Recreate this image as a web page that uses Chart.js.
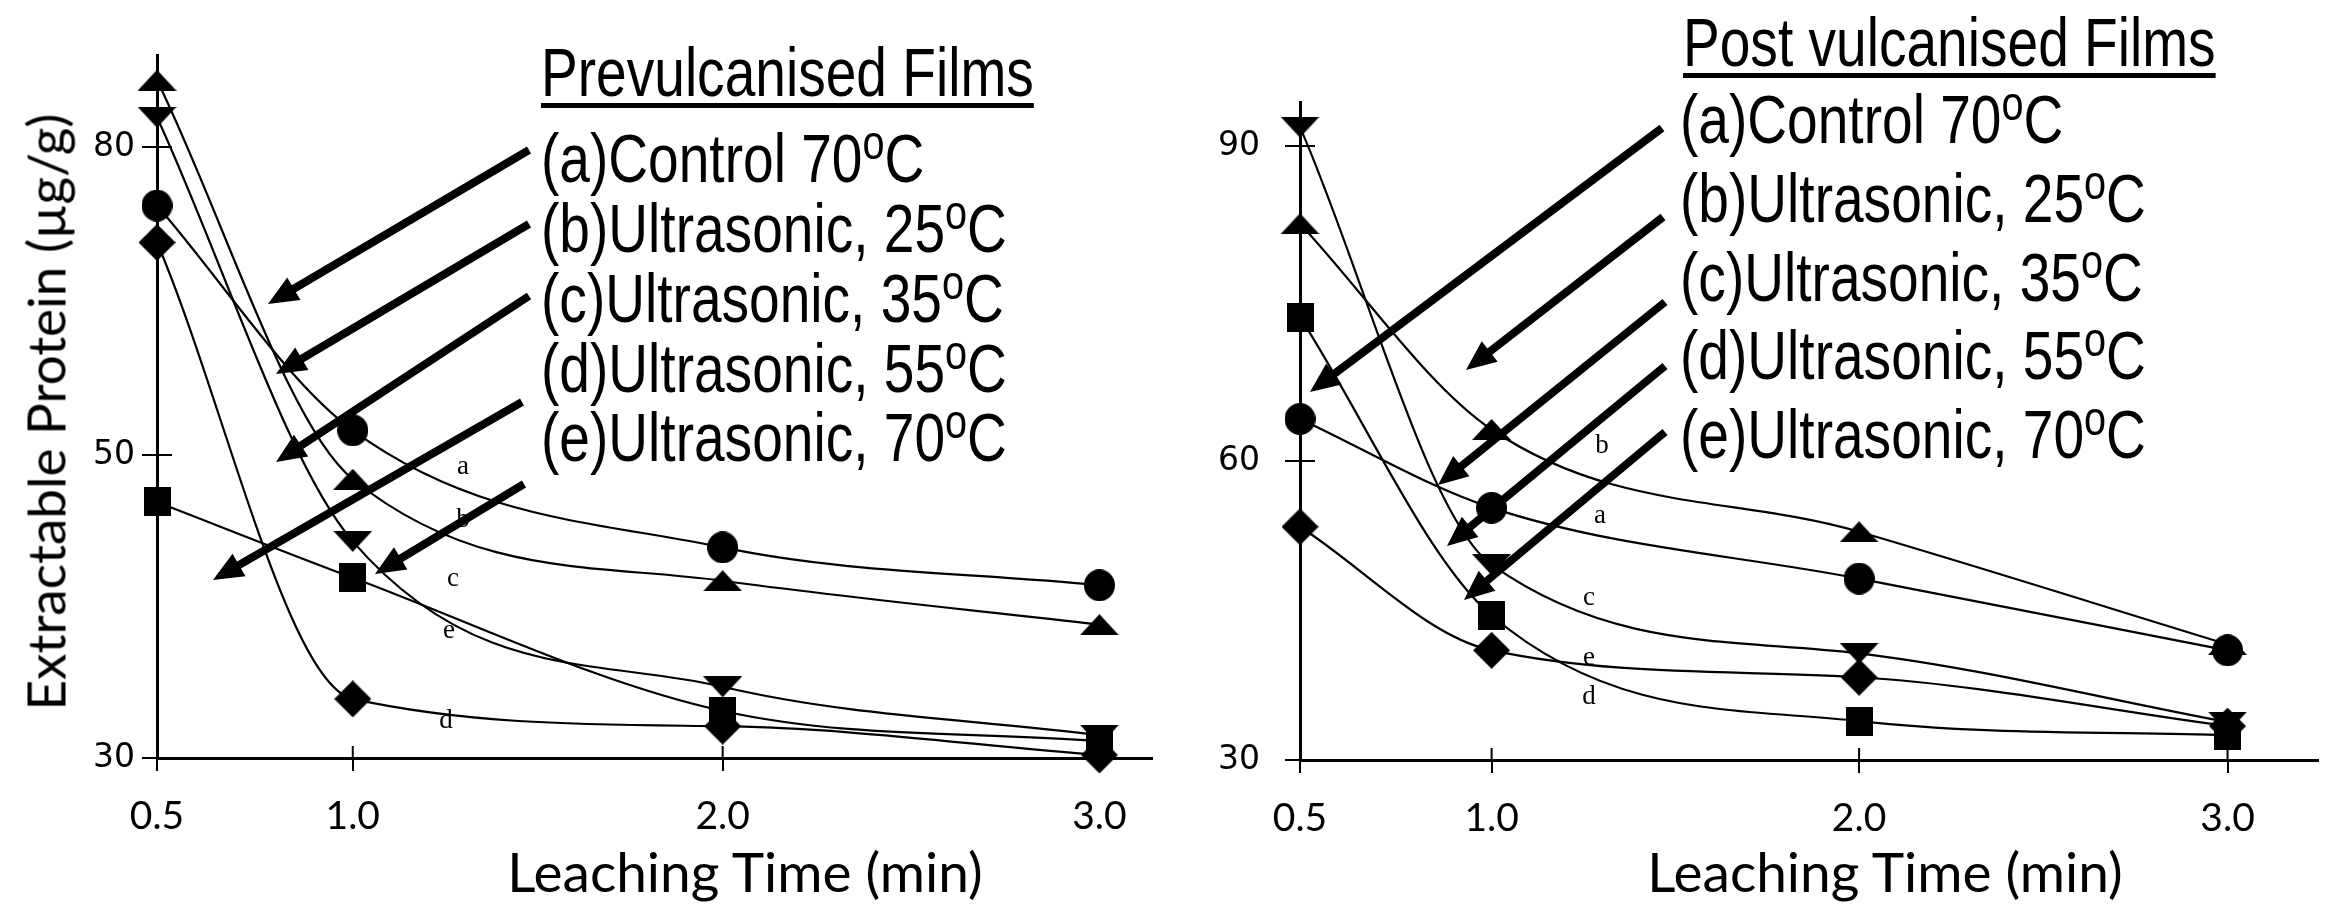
<!DOCTYPE html>
<html>
<head>
<meta charset="utf-8">
<title>Extractable protein vs leaching time</title>
<script src="https://cdn.jsdelivr.net/npm/chart.js@4.4.1/dist/chart.umd.min.js"></script>
<style>
  body { margin: 0; background: #fff; }
  #page { position: relative; width: 2336px; height: 904px; overflow: hidden; background: #fff; }
  #page canvas { position: absolute; top: 0; }
  .note { position: absolute; white-space: nowrap; color: #000;
    font-family: "Liberation Sans Narrow", "Arial Narrow", "Liberation Sans", sans-serif;
    font-size: 68px; line-height: 68px; transform: scaleX(0.81); transform-origin: 0 0; }
  .note sup { font-size: 0.72em; vertical-align: 0.46em; line-height: 0; }
  .head { text-decoration: underline; text-decoration-thickness: 5px; text-underline-offset: 7px; }
  .axis-title { position: absolute; white-space: nowrap; color: #000;
    font-family: Lato, sans-serif; font-size: 55px; line-height: 55px; transform: translate(-50%, -50%); }
  .curve-tag { position: absolute; color: #000; font-family: "Liberation Serif", serif;
    font-size: 27px; line-height: 27px; transform: translate(-50%, -50%); }
</style>
</head>
<body>
<div id="page">
  <canvas id="preChart" width="1170" height="904" style="left:0"></canvas>
  <canvas id="postChart" width="1166" height="904" style="left:1170px"></canvas>
</div>
<script>
// values
const leachTime = [0.5, 1.0, 2.0, 3.0];
const timeTicks = [0.5, 1.0, 2.0, 3.0];
const preTicks = [30, 50, 80];
const postTicks = [30, 60, 90];
const curveCodes = ['a', 'b', 'c', 'd', 'e'];
const treatments = ['Control 70', 'Ultrasonic, 25', 'Ultrasonic, 35', 'Ultrasonic, 55', 'Ultrasonic, 70'];

// Prevulcanised films (ug/g)
const preControl70 = [74.3, 52.4, 43.9, 41.4];
const preUltra25 = [86.5, 48.4, 41.7, 38.8];
const preUltra35 = [82.9, 44.3, 34.7, 31.5];
const preUltra55 = [70.7, 33.9, 32.1, 30.2];
const preUltra70 = [46.9, 41.9, 33.1, 31.1];

// Post vulcanised films (ug/g)
const postControl70 = [64.0, 55.3, 48.2, 41.0];
const postUltra25 = [82.6, 63.0, 52.9, 41.6];
const postUltra35 = [91.8, 49.6, 40.7, 33.8];
const postUltra55 = [53.4, 41.0, 38.3, 33.4];
const postUltra70 = [73.7, 44.5, 33.9, 32.5];

Chart.defaults.color = '#000';

// the scanned axes are not evenly spaced, so this scale maps values
// piecewise through the tick marks
const BaseLinear = Chart.LinearScale || Chart.registry.getScale('linear');
const knotTable = {};

class KnotScale extends BaseLinear {
  _knots() { return knotTable[this.chart.canvas.id + '.' + this.id]; }
  _warp(v) {
    const k = this._knots();
    let i = 0;
    while (i < k.length - 2 && v > k[i + 1][0]) i++;
    const a = k[i], b = k[i + 1];
    return a[1] + (v - a[0]) * (b[1] - a[1]) / (b[0] - a[0]);
  }
  _unwarp(p) {
    const k = this._knots();
    let i = 0;
    while (i < k.length - 2 && p > k[i + 1][1]) i++;
    const a = k[i], b = k[i + 1];
    return a[0] + (p - a[1]) * (b[0] - a[0]) / (b[1] - a[1]);
  }
  getPixelForValue(value) {
    if (value === null || value === undefined || isNaN(value)) return NaN;
    const lo = this._warp(this.min), hi = this._warp(this.max);
    return this.getPixelForDecimal((this._warp(value) - lo) / (hi - lo));
  }
  getValueForPixel(pixel) {
    const lo = this._warp(this.min), hi = this._warp(this.max);
    return this._unwarp(lo + this.getDecimalForPixel(pixel) * (hi - lo));
  }
}
KnotScale.id = 'knot';
KnotScale.defaults = BaseLinear.defaults;
Chart.register(KnotScale);

function marker(kind, w, h) {
  const c = document.createElement('canvas');
  c.width = w; c.height = h;
  const g = c.getContext('2d');
  g.fillStyle = '#000';
  g.beginPath();
  if (kind === 'up') { g.moveTo(w / 2, 0); g.lineTo(w, h); g.lineTo(0, h); }
  else if (kind === 'down') { g.moveTo(0, 0); g.lineTo(w, 0); g.lineTo(w / 2, h); }
  else if (kind === 'diamond') { g.moveTo(w / 2, 0); g.lineTo(w, h / 2); g.lineTo(w / 2, h); g.lineTo(0, h / 2); }
  else if (kind === 'square') { g.rect(0, 0, w, h); }
  else { g.ellipse(w / 2, h / 2, w / 2, h / 2, 0, 0, Math.PI * 2); }
  g.closePath();
  g.fill();
  return c;
}
const markers = [
  marker('circle', 31, 32),
  marker('up', 39, 21),
  marker('down', 39, 21),
  marker('diamond', 37, 37),
  marker('square', 27, 29)
];

const panels = {
  preChart: {
    offset: 0,
    series: [preControl70, preUltra25, preUltra35, preUltra55, preUltra70],
    yTicks: preTicks,
    xKnots: [[0.5, 0], [1, 199], [2, 575], [3, 958]],
    yKnots: [[30, 0], [50, 303], [80, 611]],
    xMax: 3.139, yMax: 88.96,
    axisWidth: 157, axisHeight: 146, top: 55, right: 2, yPad: 7,
    arrows: [[529, 150, 268, 304], [529, 224, 276, 374], [529, 296, 276, 462],
             [522, 402, 213, 580], [524, 484, 375, 574]]
  },
  postChart: {
    offset: 1170,
    series: [postControl70, postUltra25, postUltra35, postUltra55, postUltra70],
    yTicks: postTicks,
    xKnots: [[0.5, 0], [1, 195], [2, 569], [3, 944]],
    yKnots: [[30, 0], [60, 299], [90, 614]],
    xMax: 3.245, yMax: 94.19,
    axisWidth: 130, axisHeight: 144, top: 102, right: 0, yPad: 25,
    arrows: [[1662, 128, 1310, 392], [1663, 217, 1466, 370], [1665, 302, 1438, 485],
             [1665, 366, 1447, 546], [1665, 432, 1464, 600]]
  }
};

function drawArrow(ctx, x1, y1, x2, y2) {
  const ang = Math.atan2(y2 - y1, x2 - x1);
  const head = 30, half = 13;
  const bx = x2 - head * Math.cos(ang), by = y2 - head * Math.sin(ang);
  ctx.save();
  ctx.strokeStyle = '#000';
  ctx.fillStyle = '#000';
  ctx.lineWidth = 8;
  ctx.beginPath();
  ctx.moveTo(x1, y1);
  ctx.lineTo(bx + 2 * Math.cos(ang), by + 2 * Math.sin(ang));
  ctx.stroke();
  ctx.beginPath();
  ctx.moveTo(x2, y2);
  ctx.lineTo(bx + half * Math.sin(ang), by - half * Math.cos(ang));
  ctx.lineTo(bx - half * Math.sin(ang), by + half * Math.cos(ang));
  ctx.closePath();
  ctx.fill();
  ctx.restore();
}

// inner halves of the tick marks and the pointer arrows
const extrasPlugin = {
  id: 'extras',
  afterDraw(chart) {
    const p = panels[chart.canvas.id];
    const ctx = chart.ctx;
    const xs = chart.scales.x, ys = chart.scales.y;
    ctx.save();
    ctx.strokeStyle = '#000';
    ctx.lineWidth = 2;
    ys.ticks.forEach(t => {
      const y = ys.getPixelForValue(t.value);
      ctx.beginPath(); ctx.moveTo(xs.left, y); ctx.lineTo(xs.left + 15, y); ctx.stroke();
    });
    xs.ticks.forEach(t => {
      const x = xs.getPixelForValue(t.value);
      ctx.beginPath(); ctx.moveTo(x, ys.bottom); ctx.lineTo(x, ys.bottom - 12); ctx.stroke();
    });
    ctx.restore();
    p.arrows.forEach(a => drawArrow(ctx, a[0] - p.offset, a[1], a[2] - p.offset, a[3]));
  }
};

Object.keys(panels).forEach(id => {
  const p = panels[id];
  knotTable[id + '.x'] = p.xKnots;
  knotTable[id + '.y'] = p.yKnots;
  new Chart(document.getElementById(id), {
    type: 'line',
    data: {
      datasets: p.series.map((vals, i) => ({
        label: '(' + curveCodes[i] + ')' + treatments[i] + '\u00B0C',
        data: leachTime.map((t, j) => ({ x: t, y: vals[j] })),
        borderColor: '#000',
        backgroundColor: '#000',
        borderWidth: 2.2,
        pointStyle: markers[i],
        pointRadius: 16,
        pointHoverRadius: 16,
        cubicInterpolationMode: 'monotone',
        fill: false,
        clip: false
      }))
    },
    options: {
      responsive: false,
      animation: false,
      events: [],
      layout: { padding: { top: p.top, right: p.right, left: 0, bottom: 0 } },
      plugins: { legend: { display: false }, tooltip: { enabled: false } },
      scales: {
        x: {
          type: 'knot', position: 'bottom', bounds: 'data', min: 0.5, max: p.xMax,
          afterBuildTicks: s => { s.ticks = timeTicks.map(v => ({ value: v })); },
          afterFit: s => { s.height = p.axisHeight; },
          ticks: { autoSkip: false, maxRotation: 0, padding: 22, color: '#000',
                   font: { family: 'Lato', size: 39 }, callback: v => Number(v).toFixed(1) },
          grid: { drawOnChartArea: false, tickLength: 13, color: '#000', lineWidth: 2 },
          border: { color: '#000', width: 3 }
        },
        y: {
          type: 'knot', position: 'left', bounds: 'data', min: 30, max: p.yMax,
          afterBuildTicks: s => { s.ticks = p.yTicks.map(v => ({ value: v })); },
          afterFit: s => { s.width = p.axisWidth; },
          ticks: { autoSkip: false, padding: p.yPad, color: '#000',
                   font: { family: 'DejaVu Sans', size: 33 } },
          grid: { drawOnChartArea: false, tickLength: 15, color: '#000', lineWidth: 2 },
          border: { color: '#000', width: 3 }
        }
      }
    },
    plugins: [extrasPlugin]
  });
});

// titles, legends and curve letters
const page = document.getElementById('page');
function addText(cls, html, style) {
  const d = document.createElement('div');
  d.className = cls;
  d.innerHTML = html;
  Object.assign(d.style, style);
  page.appendChild(d);
  return d;
}
function legendBlock(title, left, titleMid, lineLeft, mids) {
  addText('note head', title, { left: left + 'px', top: (titleMid - 34) + 'px' });
  mids.forEach((m, i) => {
    addText('note', '(' + curveCodes[i] + ')' + treatments[i] + '<sup>o</sup>C',
      { left: lineLeft + 'px', top: (m - 34) + 'px' });
  });
}
legendBlock('Prevulcanised Films', 541, 72, 541, [158, 228, 298, 368, 437]);
legendBlock('Post vulcanised Films', 1683, 42, 1680, [119, 198, 277, 355, 434]);

addText('axis-title', 'Leaching Time (min)', { left: '745px', top: '871px' });
addText('axis-title', 'Leaching Time (min)', { left: '1885px', top: '871px' });
addText('axis-title', 'Extractable Protein (\u00B5g/g)',
  { left: '45px', top: '412px', fontSize: '53px', transform: 'translate(-50%, -50%) rotate(-90deg)' });

const tagSpots = [
  ['a', 463, 465], ['b', 463, 518], ['c', 453, 577], ['e', 449, 629], ['d', 446, 719],
  ['b', 1602, 444], ['a', 1600, 514], ['c', 1589, 596], ['e', 1589, 656], ['d', 1589, 695]
];
tagSpots.forEach(t => addText('curve-tag', t[0], { left: t[1] + 'px', top: t[2] + 'px' }));
</script>
</body>
</html>
